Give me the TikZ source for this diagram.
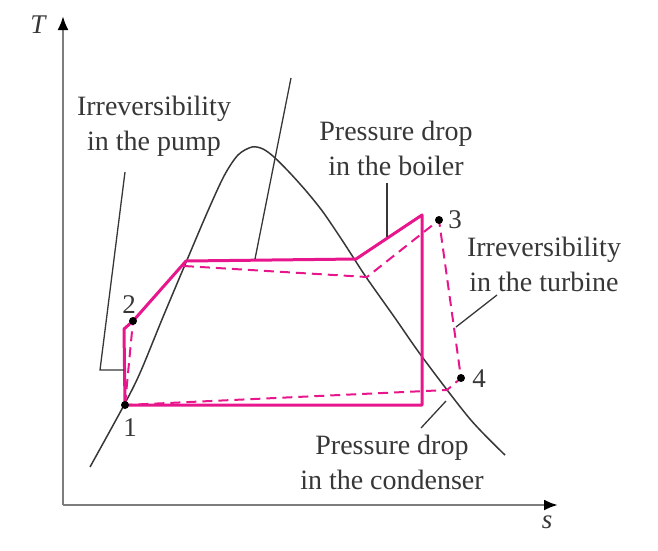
\documentclass[tikz,border=0pt]{standalone}
\usepackage{fontspec}
\setmainfont{Liberation Serif}
\usetikzlibrary{arrows.meta}
\definecolor{cyc}{RGB}{232,22,140}
\definecolor{ink}{RGB}{55,55,55}
\definecolor{axisgray}{RGB}{125,125,125}
\begin{document}
\begin{tikzpicture}[x=1pt,y=-1pt,
  lbl/.style={font=\fontsize{28}{35}\selectfont, text=ink, align=center, inner sep=0pt},
  num/.style={font=\fontsize{27}{30}\selectfont, text=ink, inner sep=0pt},
  leader/.style={draw=ink, line width=1.3pt},
  dome/.style={draw=ink, line width=1.5pt},
  ideal/.style={draw=cyc, line width=3pt, line join=round},
  actual/.style={draw=cyc, line width=2pt, line join=round, dash pattern=on 10pt off 6pt},
  dot/.style={circle, fill=black, inner sep=0pt, minimum size=8pt},
  axis/.style={draw=axisgray, line width=2.5pt, -{Latex[length=14pt,width=11pt,color=black]}}]
\useasboundingbox (0,0) rectangle (658,550);
% axes
\coordinate (O) at (63,505);
\coordinate (ytop) at (63,16);
\coordinate (xend) at (558,505);
\draw[axis] (O) -- (ytop);
\draw[axis] (O) -- (xend);
\node[num, font=\fontsize{27}{30}\selectfont\itshape] (T) at (38,25) {T};
\node[num, font=\fontsize{27}{30}\selectfont\itshape] (s) at (547,522) {s};
% saturation dome
\draw[dome] plot[smooth, tension=0.5] coordinates {(90,467) (123,407) (140,373) (163,317) (187,260) (207,213) (224,176) (238,155) (252,147) (263,149) (274,157) (290,173) (307,192) (323,212) (340,237) (353,257) (366,277) (395,318) (423,358) (470,419) (505,455)};
% state points
\coordinate (p1) at (125,405);
\coordinate (p2) at (133,321);
\coordinate (p3) at (439,220);
\coordinate (p4) at (461,378);
\coordinate (a) at (124,329);
\coordinate (b) at (186,261);
\coordinate (c) at (356,259);
\coordinate (d) at (422,215);
\coordinate (e) at (422,405);
\coordinate (f) at (184,266);
\coordinate (g) at (367,277);
\coordinate (h) at (447,390);
% ideal cycle
\draw[ideal] (p1) -- (a) -- (p2) -- (b) -- (c) -- (d) -- (e) -- cycle;
% actual cycle
\draw[actual] (p1) -- (p2);
\draw[actual] (f) -- (g) -- (p3) -- (p4) -- (h) -- (p1);
% leaders
\coordinate (lp1) at (124,370);
\coordinate (lp2) at (100,370);
\coordinate (lp3) at (125,172);
\draw[leader] (lp1) -- (lp2) -- (lp3);
\coordinate (lm1) at (291,78);
\coordinate (lm2) at (255,259);
\draw[leader] (lm1) -- (lm2);
\coordinate (lb1) at (387,183);
\coordinate (lb2) at (387,237);
\draw[leader] (lb1) -- (lb2);
\coordinate (lt1) at (497,295);
\coordinate (lt2) at (456,327);
\draw[leader] (lt1) -- (lt2);
\coordinate (lc1) at (446,401);
\coordinate (lc2) at (421,428);
\draw[leader] (lc1) -- (lc2);
% dots
\node[dot] (d1) at (p1) {};
\node[dot] (d2) at (p2) {};
\node[dot] (d3) at (p3) {};
\node[dot] (d4) at (p4) {};
\node[num] (n1) at (130,428) {1};
\node[num] (n2) at (129,305) {2};
\node[num] (n3) at (455,220) {3};
\node[num] (n4) at (479,379) {4};
% labels
\node[lbl] (pump) at (154,126) {Irreversibility\\in the pump};
\node[lbl] (boiler) at (396,148) {Pressure drop\\in the boiler};
\node[lbl] (turb) at (544,264) {Irreversibility\\in the turbine};
\node[lbl] (cond) at (392,462) {Pressure drop\\in the condenser};
\end{tikzpicture}
\end{document}
